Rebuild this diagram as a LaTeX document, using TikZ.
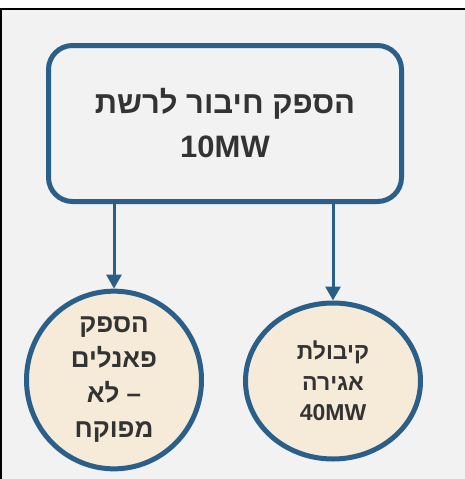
\documentclass[tikz,border=0pt]{standalone}
\usepackage{fontspec}
\setmainfont{Liberation Sans}
\newfontfamily\hebfont[Script=Hebrew]{Liberation Sans}
\usetikzlibrary{shapes.geometric,arrows.meta}
\definecolor{frameblue}{HTML}{2A5F8A}
\definecolor{bgray}{HTML}{F2F2F2}
\definecolor{beige}{HTML}{F6EBD9}
\definecolor{txt}{HTML}{333333}
\TeXXeTstate=1
\begin{document}
\begin{tikzpicture}[x=1pt, y=-1pt, line width=5pt,
  box/.style={draw=frameblue, rounded corners=24pt, minimum width=353pt, minimum height=156pt, align=center, text=txt, font=\hebfont\bfseries\fontsize{31}{44}\selectfont},
  bubble/.style={ellipse, draw=frameblue, fill=beige, minimum width=175pt, minimum height=156pt, inner sep=0pt, align=center, text=txt},
  arr/.style={draw=frameblue, line width=3pt, -{Triangle[width=15pt,length=14pt]}}]

\useasboundingbox (0,0) rectangle (465,479);
\fill[white] (0,0) rectangle (465,9);
\fill[bgray] (0,9) rectangle (465,479);
\draw[black, line width=2pt] (1,479) -- (1,9) -- (465,9);

\node[box] (grid) at (225,123.5) {\beginR הספק חיבור לרשת\endR\\10MW};
\node[bubble, font=\hebfont\bfseries\fontsize{26}{35}\selectfont] (panels) at (114,380) {\beginR הספק\endR\\\beginR פאנלים\endR\\\beginR – לא\endR\\\beginR מפוקח\endR};
\node[bubble, font=\hebfont\bfseries\fontsize{23}{30.5}\selectfont] (storage) at (333,381) {\beginR קיבולת\endR\\\beginR אגירה\endR\\40MW};

\draw[arr] (grid.south -| panels.north) -- (panels.north);
\draw[arr] (grid.south -| storage.north) -- (storage.north);
\end{tikzpicture}
\end{document}
